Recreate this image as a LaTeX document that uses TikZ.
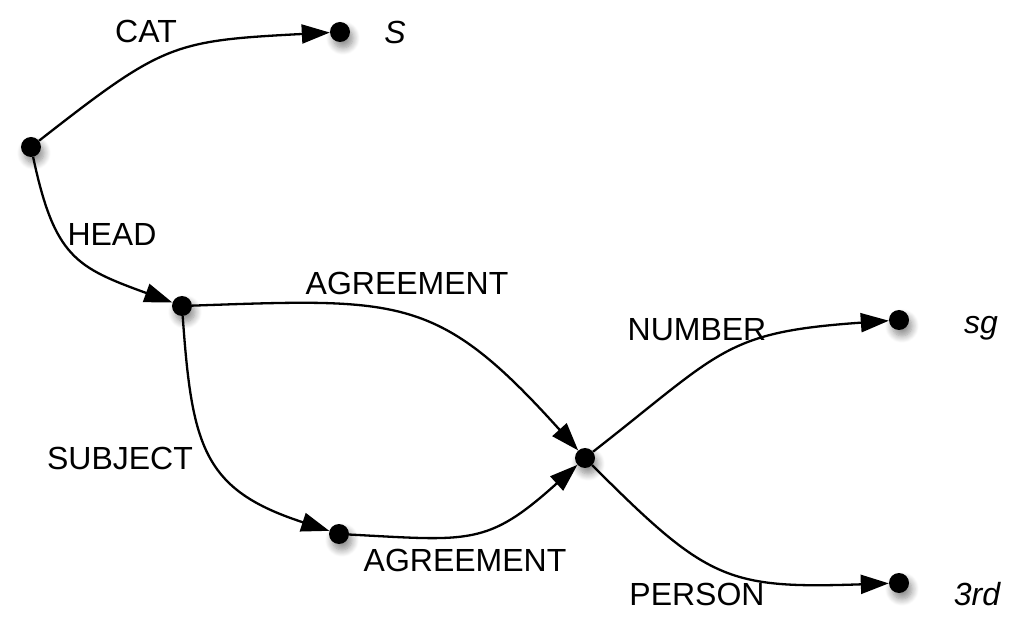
\documentclass[tikz,border=0pt]{standalone}
\usepackage{fontspec}
\setmainfont{Liberation Sans}
\usetikzlibrary{arrows.meta,shadows.blur}
\begin{document}
\begin{tikzpicture}[x=1pt,y=1pt,
  dot/.style={circle,fill=black,inner sep=0pt,minimum size=20pt,
    blur shadow={shadow xshift=3pt,shadow yshift=-6pt,shadow blur radius=7pt,shadow opacity=45,shadow blur steps=10}},
  edge/.style={line width=2.3pt,looseness=1.3,-{Triangle[length=28pt,width=19pt]}},
  lab/.style={font=\fontsize{32}{38}\selectfont,inner sep=0pt},
  val/.style={font=\fontsize{32}{38}\selectfont\itshape,inner sep=0pt}]
\useasboundingbox (0,0) rectangle (1021,622);
\node[dot] (A) at (31,475) {};
\node[dot] (S) at (340,590) {};
\node[dot] (B) at (182,316) {};
\node[dot] (C) at (339,88) {};
\node[dot] (D) at (585,164) {};
\node[dot] (sg) at (899,302) {};
\node[dot] (rd) at (899,39) {};
\draw[edge] (A) to[out=38,in=183] (S);
\draw[edge] (A) to[out=-78,in=160] (B);
\draw[edge] (B) to[out=2,in=132] (D);
\draw[edge] (B) to[out=-86,in=162] (C);
\draw[edge] (C) to[out=-3,in=-138] (D);
\draw[edge] (D) to[out=38,in=184] (sg);
\draw[edge] (D) to[out=-45,in=182] (rd);
\node[lab] (lcat) at (146,591) {CAT};
\node[val] (ls) at (395,590) {S};
\node[lab] (lhead) at (112,388) {HEAD};
\node[lab] (lagr1) at (407,339) {AGREEMENT};
\node[lab] (lsubj) at (120,164) {SUBJECT};
\node[lab] (lagr2) at (465,62) {AGREEMENT};
\node[lab] (lnum) at (697,292) {NUMBER};
\node[val] (lsg) at (981,294) {sg};
\node[lab] (lper) at (697,28) {PERSON};
\node[val] (lrd) at (977,28) {3rd};
\end{tikzpicture}
\end{document}
